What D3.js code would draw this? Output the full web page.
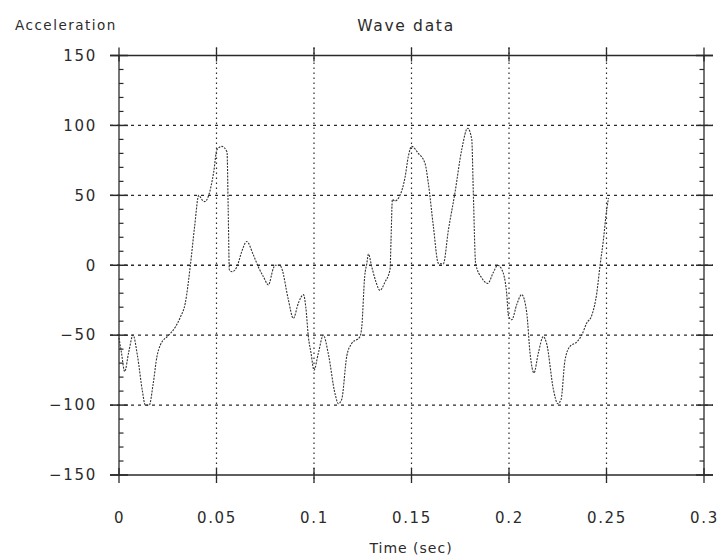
<!DOCTYPE html>
<html>
<head>
<meta charset="utf-8">
<script src="https://d3js.org/d3.v7.min.js"></script>
<style>
  body { margin: 0; background: #fff; }
  text { font-family: "DejaVu Sans", sans-serif; fill: #2b2b2b; }
</style>
</head>
<body>
<div id="my_dataviz"></div>
<script>
// wave samples
var times = [0, 0.0012, 0.0029, 0.0050, 0.0072, 0.0095, 0.0120, 0.0135, 0.0155, 0.0175,
  0.0195, 0.0212, 0.0255, 0.0290, 0.0315, 0.0340, 0.0366, 0.0388, 0.0409, 0.0425,
  0.0440, 0.0460, 0.0486, 0.0502, 0.0528, 0.0554, 0.0560, 0.0566, 0.0580, 0.0605,
  0.0630, 0.0655, 0.0689, 0.0714, 0.0740, 0.0766, 0.0792, 0.0801, 0.0826, 0.0834,
  0.0869, 0.0894, 0.0920, 0.0946, 0.0958, 0.0971, 0.0985, 0.1000, 0.1022, 0.1048,
  0.1073, 0.1108, 0.1125, 0.1142, 0.1168, 0.1193, 0.1236, 0.1245, 0.1260, 0.1271,
  0.1279, 0.1296, 0.1318, 0.1338, 0.1364, 0.1390, 0.1395, 0.1402, 0.1415, 0.1441,
  0.1467, 0.1484, 0.1501, 0.1535, 0.1569, 0.1586, 0.1612, 0.1638, 0.1663, 0.1689,
  0.1723, 0.1758, 0.1788, 0.1809, 0.1817, 0.1829, 0.1860, 0.1891, 0.1920, 0.1942,
  0.1963, 0.1988, 0.1997, 0.2014, 0.2040, 0.2065, 0.2091, 0.2108, 0.2128, 0.2150,
  0.2176, 0.2193, 0.2228, 0.2250, 0.2267, 0.2287, 0.2313, 0.2347, 0.2373, 0.2398,
  0.2424, 0.2450, 0.2467, 0.2484, 0.2497, 0.2510]
var accel = [-52, -62, -76, -62, -50, -65, -90, -100, -100, -85,
  -65, -57, -50, -44, -37, -27, 0, 28, 50, 47,
  45.5, 50, 67, 82.6, 85, 81, 40, -3.4, -4.6, -1,
  10, 17, 7.4, -1, -8, -14, -2, 0, 0, -2,
  -25, -38, -27, -21, -30, -51, -63, -75, -63, -50,
  -63, -92, -99, -96, -65, -56, -51, -44, -8, 1.4,
  8, -1, -12, -18, -12, -3, 18, 47, 46, 50,
  63, 78, 85, 80, 73, 59, 28, 1.4, 1, 25,
  52, 83, 98, 90, 52, 1, -9, -13, -5, 0,
  -3, -20, -36, -39, -28, -21, -34, -63, -77, -63,
  -51, -56, -89, -99, -96, -68, -58, -55, -50, -41.5,
  -36, -20, 0, 18, 35, 48]

var xTicks = [0, 0.05, 0.1, 0.15, 0.2, 0.25, 0.3]
var xTickLabels = ["0", "0.05", "0.1", "0.15", "0.2", "0.25", "0.3"]
var yTicks = [-150, -100, -50, 0, 50, 100, 150]
var yMinorStep = 10

var chartTitle = "Wave data"
var yTitle = "Acceleration"
var xTitle = "Time (sec)"

window.onload = () => {
  var width = 723
  var height = 558
  var left = 119, right = 704, top = 55.5, bottom = 475

  var svg = d3.select("#my_dataviz")
    .append("svg")
    .attr("width", width)
    .attr("height", height)

  var x = d3.scaleLinear().domain([0, 0.3]).range([left, right])
  var y = d3.scaleLinear().domain([-150, 150]).range([bottom, top])

  var ink = "#2a2a2a"

  // dotted grid, horizontal (inner values only)
  svg.append("g").selectAll("line")
    .data(yTicks.filter(d => d > -150 && d < 150))
    .enter().append("line")
    .attr("x1", left - 9).attr("x2", right + 9)
    .attr("y1", d => y(d)).attr("y2", d => y(d))
    .attr("stroke", ink)
    .attr("stroke-width", 1.3)
    .attr("stroke-dasharray", "3,4")

  // dotted grid, vertical
  svg.append("g").selectAll("line")
    .data(xTicks.filter(d => d > 0 && d < 0.3))
    .enter().append("line")
    .attr("x1", d => x(d)).attr("x2", d => x(d))
    .attr("y1", top - 8).attr("y2", bottom + 8)
    .attr("stroke", ink)
    .attr("stroke-width", 1.2)
    .attr("stroke-dasharray", "1.5,3.5")

  // solid top and bottom lines
  svg.append("g").selectAll("line")
    .data([-150, 150])
    .enter().append("line")
    .attr("x1", left - 9).attr("x2", right + 9)
    .attr("y1", d => y(d)).attr("y2", d => y(d))
    .attr("stroke", ink)
    .attr("stroke-width", 1.3)

  // left / right axis lines
  svg.append("g").selectAll("line")
    .data([0, 0.3])
    .enter().append("line")
    .attr("x1", d => x(d)).attr("x2", d => x(d))
    .attr("y1", top).attr("y2", bottom)
    .attr("stroke", ink)
    .attr("stroke-width", 1.3)

  // major y ticks crossing both side axes
  var yMajor = svg.append("g")
  yTicks.forEach(v => {
    yMajor.append("line").attr("x1", left - 9).attr("x2", left + 9)
      .attr("y1", y(v)).attr("y2", y(v)).attr("stroke", ink).attr("stroke-width", 1.5)
    yMajor.append("line").attr("x1", right - 8).attr("x2", right + 9)
      .attr("y1", y(v)).attr("y2", y(v)).attr("stroke", ink).attr("stroke-width", 1.5)
  })

  // minor y ticks, pointing inward
  var minor = d3.range(-150, 151, yMinorStep).filter(d => d % 50 != 0)
  svg.append("g").selectAll("line")
    .data(minor)
    .enter().append("line")
    .attr("x1", left).attr("x2", left + 4.5)
    .attr("y1", d => y(d)).attr("y2", d => y(d))
    .attr("stroke", ink).attr("stroke-width", 1.2)
  svg.append("g").selectAll("line")
    .data(minor)
    .enter().append("line")
    .attr("x1", right - 4.5).attr("x2", right)
    .attr("y1", d => y(d)).attr("y2", d => y(d))
    .attr("stroke", ink).attr("stroke-width", 1.2)

  // x ticks crossing top and bottom lines
  var xMajor = svg.append("g")
  xTicks.forEach(v => {
    xMajor.append("line").attr("x1", x(v)).attr("x2", x(v))
      .attr("y1", bottom - 7).attr("y2", bottom + 8).attr("stroke", ink).attr("stroke-width", 1.3)
    xMajor.append("line").attr("x1", x(v)).attr("x2", x(v))
      .attr("y1", top - 8).attr("y2", top + 6).attr("stroke", ink).attr("stroke-width", 1.3)
  })

  // tick labels through d3 axes (no domain / tick lines)
  var yAxis = svg.append("g")
    .attr("transform", "translate(" + left + ",0)")
    .call(d3.axisLeft(y).tickValues(yTicks).tickSize(0).tickPadding(22))
  var xAxis = svg.append("g")
    .attr("transform", "translate(0," + bottom + ")")
    .call(d3.axisBottom(x).tickValues(xTicks).tickSize(0).tickPadding(37)
      .tickFormat((d, i) => xTickLabels[i]))
  ;[yAxis, xAxis].forEach(a => {
    a.select(".domain").remove()
    a.selectAll("text")
      .attr("font-family", "DejaVu Sans")
      .attr("font-size", 15)
      .attr("letter-spacing", "1.7px")
      .attr("fill", "#2b2b2b")
  })

  // wave
  var line = d3.line()
    .x((d, i) => x(times[i]))
    .y(d => y(d))
    .curve(d3.curveMonotoneX)
  svg.append("path")
    .datum(accel)
    .attr("d", line)
    .attr("fill", "none")
    .attr("stroke", "#333")
    .attr("stroke-width", 1.1)
    .attr("stroke-dasharray", "2,1.2")

  // titles
  svg.append("text")
    .attr("x", 15).attr("y", 30)
    .attr("font-size", 13.5)
    .attr("letter-spacing", "1.5px")
    .text(yTitle)
  svg.append("text")
    .attr("x", 406).attr("y", 31)
    .attr("text-anchor", "middle")
    .attr("font-size", 15.5)
    .attr("letter-spacing", "1.7px")
    .text(chartTitle)
  svg.append("text")
    .attr("x", 411).attr("y", 553)
    .attr("text-anchor", "middle")
    .attr("font-size", 14)
    .attr("letter-spacing", "1px")
    .text(xTitle)
}
</script>
</body>
</html>
